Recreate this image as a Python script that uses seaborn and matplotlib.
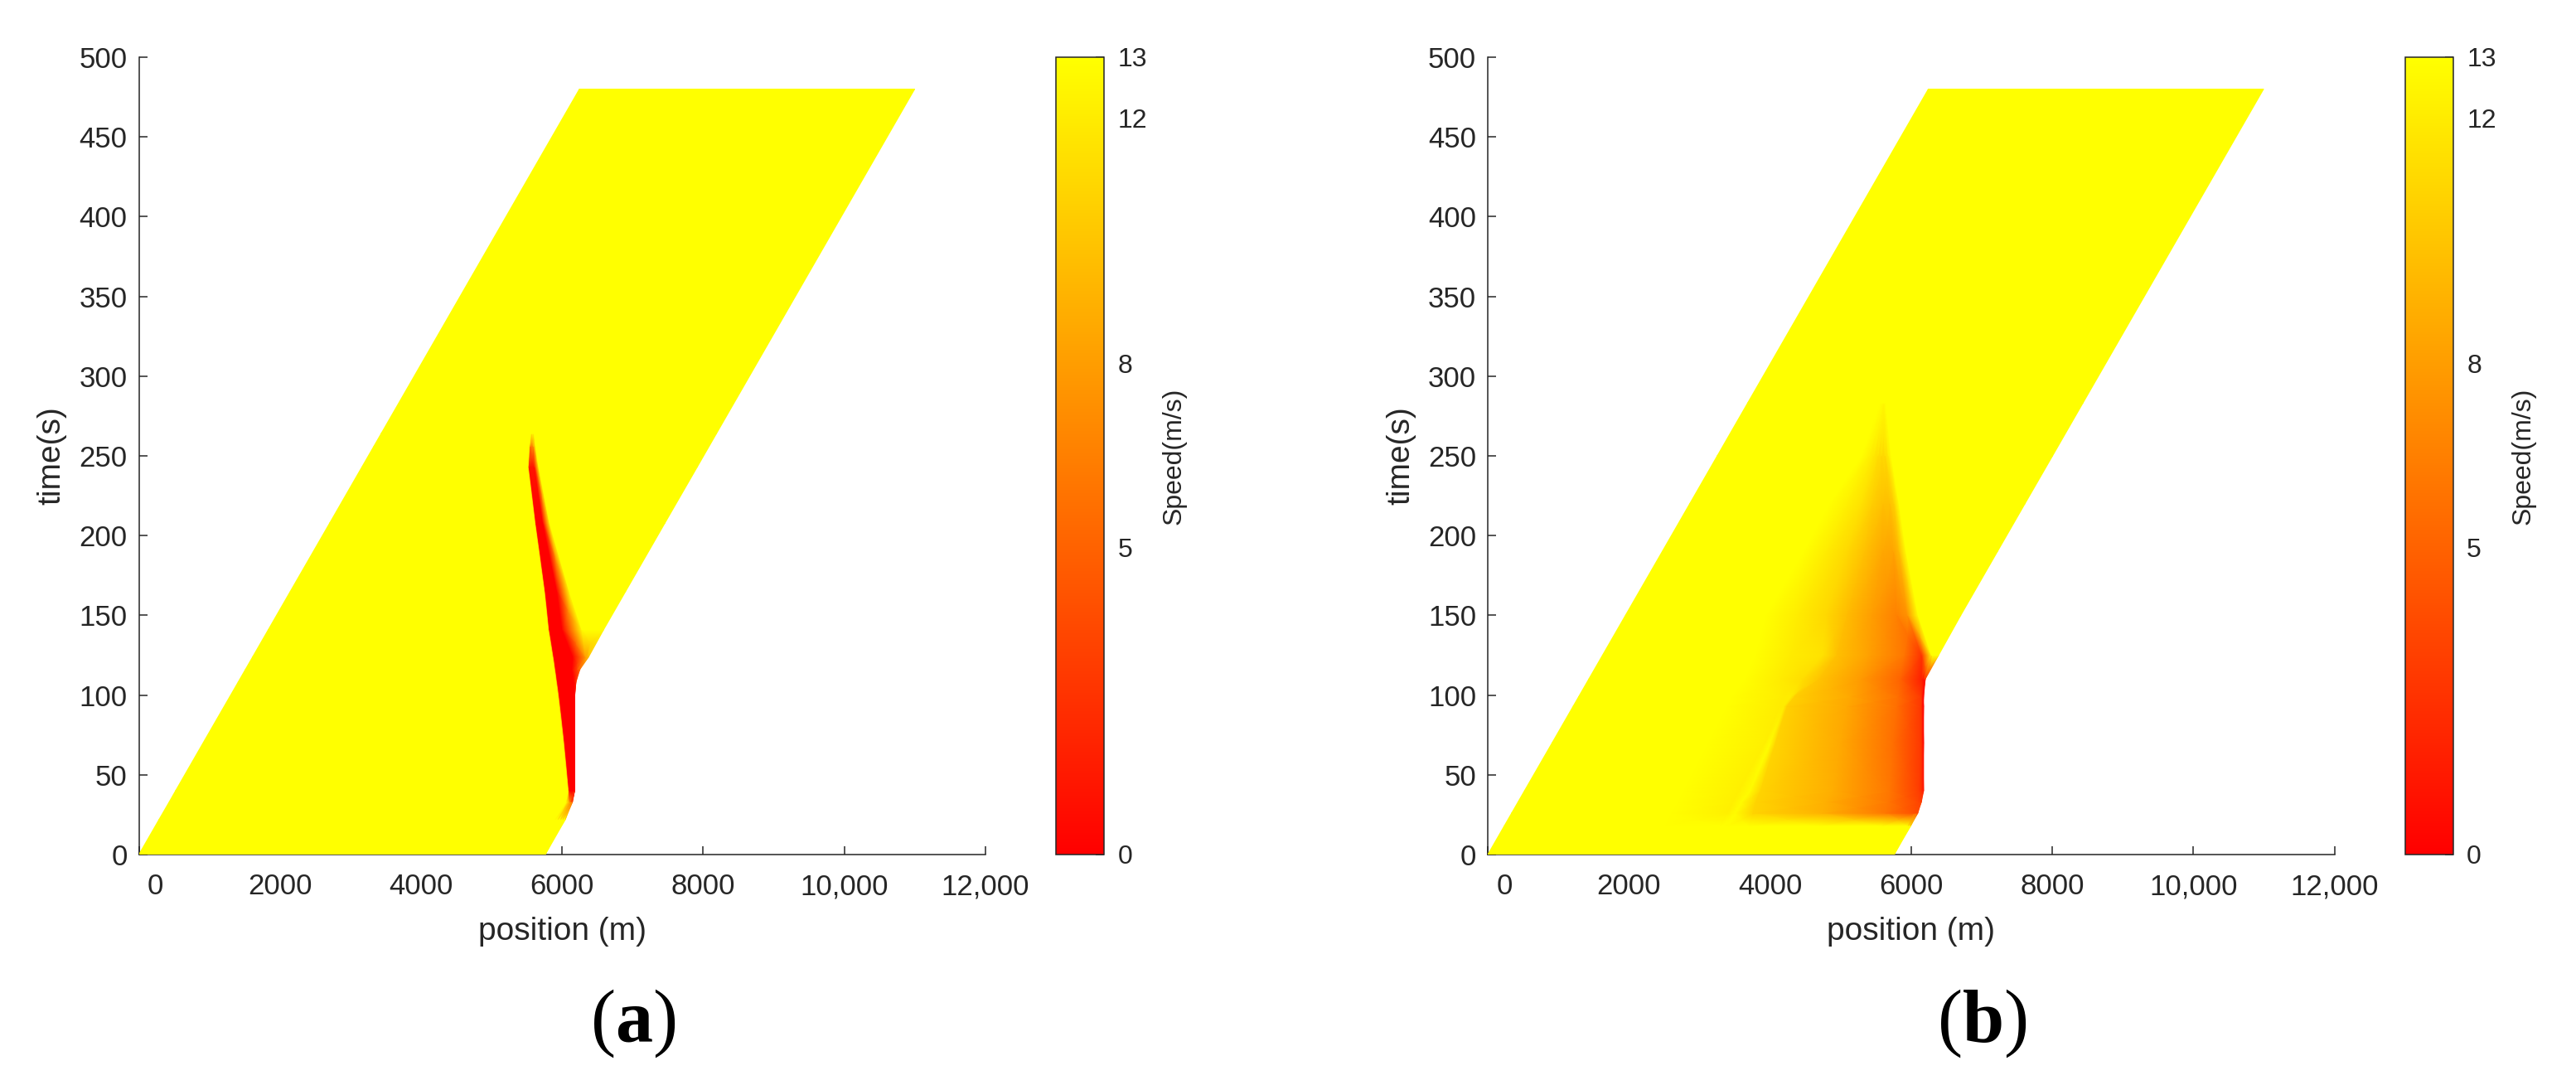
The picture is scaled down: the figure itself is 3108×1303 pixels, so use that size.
import numpy as np
import seaborn as sns
import matplotlib.pyplot as plt
from matplotlib.transforms import ScaledTranslation

# panel (a): time rows (s), node positions (m) and speeds (m/s) along each row
# nodes: left edge, band left (yellow), band left (red), band right, fade end, right edge
a_time = [0, 22, 33, 40, 72, 99, 108, 116, 124, 141, 165, 208, 243, 256, 264, 480]
a_pos = [
    [0, 5600, 5650, 5700, 5730, 5761],
    [286, 5900, 5940, 5980, 6010, 6045],
    [430, 6060, 6105, 6125, 6138, 6146],
    [520, 6085, 6100, 6170, 6174, 6177],
    [936, 6015, 6032, 6170, 6174, 6177],
    [1288, 5945, 5962, 6170, 6174, 6177],
    [1405, 5918, 5934, 6160, 6185, 6195],
    [1509, 5893, 5909, 6140, 6220, 6250],
    [1613, 5866, 5883, 6150, 6330, 6376],
    [1834, 5805, 5820, 6000, 6280, 6588],
    [2146, 5748, 5763, 5926, 6102, 6900],
    [2706, 5615, 5629, 5727, 5822, 7459],
    [3161, 5518, 5531, 5609, 5668, 7915],
    [3330, 5535, 5550, 5590, 5625, 8084],
    [3434, 5560, 5570, 5590, 5605, 8188],
    [6244, 8000, 8010, 8020, 8030, 10997],
]
a_speed = [
    [13, 13, 13, 13, 13, 13],
    [13, 13, 13, 13, 13, 13],
    [13, 13, 8, 6, 5, 5],
    [13, 13, 0, 0, 0, 0],
    [13, 13, 0, 0, 0, 0],
    [13, 13, 0, 0, 0, 0],
    [13, 13, 0, 0, 1, 2],
    [13, 13, 0, 0, 4, 5],
    [13, 13, 0, 0, 8, 10],
    [13, 13, 0, 0, 13, 13],
    [13, 13, 0, 0, 13, 13],
    [13, 13, 0, 0, 13, 13],
    [13, 13, 1, 1, 13, 13],
    [13, 13, 6, 7, 13, 13],
    [13, 13, 13, 13, 13, 13],
    [13, 13, 13, 13, 13, 13],
]

# panel (b): nodes: left edge, stripes start, stripes, wedge, main left, main mid,
# near bottleneck, slow edge, fade end, right edge
b_time = [0, 18, 26, 33, 40, 70, 93, 99, 110, 125, 150, 190, 220, 250, 283, 480]
b_pos = [
    [0, 2400, 3200, 3300, 3600, 4600, 5400, 5700, 5730, 5761],
    [234, 2515, 3300, 3400, 3710, 4700, 5600, 5960, 5985, 5995],
    [338, 2610, 3400, 3510, 3760, 4750, 5650, 6050, 6075, 6095],
    [429, 2700, 3480, 3600, 3800, 4800, 5680, 6110, 6135, 6146],
    [520, 2780, 3567, 3720, 3869, 4900, 5700, 6120, 6160, 6177],
    [911, 3128, 3928, 4005, 4081, 5000, 5750, 6140, 6165, 6177],
    [1210, 3400, 4150, 4200, 4243, 5100, 5800, 6140, 6165, 6177],
    [1288, 3470, 4200, 4300, 4350, 5150, 5820, 6145, 6168, 6177],
    [1431, 3650, 4150, 4450, 4700, 5300, 5850, 6150, 6185, 6201],
    [1626, 3800, 4300, 4750, 4950, 5400, 5900, 6150, 6290, 6390],
    [1951, 3950, 4400, 4800, 5100, 5450, 5800, 5950, 6100, 6705],
    [2472, 4480, 4800, 5100, 5350, 5600, 5750, 5830, 5930, 7225],
    [2862, 4850, 5100, 5300, 5450, 5600, 5700, 5760, 5830, 7615],
    [3252, 5300, 5400, 5470, 5530, 5580, 5630, 5680, 5720, 8006],
    [3681, 5560, 5580, 5595, 5605, 5613, 5620, 5630, 5640, 8435],
    [6244, 7500, 7600, 7700, 7800, 7900, 8000, 8100, 8200, 10997],
]
b_speed = [
    [13, 13, 13, 13, 13, 13, 13, 13, 13, 13],
    [13, 13, 13, 13, 13, 13, 13, 13, 13, 13],
    [13, 13, 12.2, 12.8, 10.8, 9, 6, 4, 4, 4],
    [13, 13, 12.2, 12.8, 10.8, 8.9, 6, 3.5, 3.5, 3.5],
    [13, 13, 12.2, 12.8, 10.8, 8.8, 6, 3, 2, 1.5],
    [13, 13, 12.2, 12.8, 10.8, 8.6, 5.6, 2.8, 1.5, 0.5],
    [13, 13, 12, 12, 10.6, 8.5, 5.6, 2.8, 1, 0.5],
    [13, 13, 12, 12, 10.6, 8.5, 5.6, 2.8, 1, 0.3],
    [13, 13, 12, 11.3, 10, 7.8, 5, 1.5, 1, 1.5],
    [13, 13, 12, 11.5, 9.8, 8.2, 6, 2.5, 13, 13],
    [13, 13, 12, 11, 9.5, 8, 6.5, 7.5, 13, 13],
    [13, 13, 12, 11, 9.8, 8.5, 8.3, 9.5, 13, 13],
    [13, 13, 12.2, 11.5, 10.5, 9.8, 9.8, 10.5, 13, 13],
    [13, 13, 12.3, 11.8, 11.3, 11, 11, 12, 13, 13],
    [13, 13, 13, 13, 13, 13, 13, 13, 13, 13],
    [13, 13, 13, 13, 13, 13, 13, 13, 13, 13],
]

x_ticks = [0, 2000, 4000, 6000, 8000, 10000, 12000]
x_tick_labels = ["0", "2000", "4000", "6000", "8000", "10,000", "12,000"]
y_ticks = [0, 50, 100, 150, 200, 250, 300, 350, 400, 450, 500]
cbar_ticks = [0, 5, 8, 12, 13]
panel_tags = ["a", "b"]

sns.set_style("white")
plt.rcParams["font.family"] = ["Liberation Sans", "DejaVu Sans"]
plt.rcParams["mathtext.fontset"] = "custom"
plt.rcParams["mathtext.rm"] = "Liberation Serif"
plt.rcParams["mathtext.bf"] = "Liberation Serif:bold"

speed_cmap = sns.blend_palette(["#ff0000", "#ffff00"], as_cmap=True)
norm = plt.Normalize(0, 13)
ink = "#262626"

W, H = 3108, 1303
fig = plt.figure(figsize=(W / 100, H / 100), dpi=100)

panels = [(a_time, a_pos, a_speed), (b_time, b_pos, b_speed)]
for i, (t_rows, x_rows, v_rows) in enumerate(panels):
    shift = 1627.5 * i
    ax = fig.add_axes([(167.5 + shift) / W, (H - 1031) / H, 1021.5 / W, 962 / H])
    cax = fig.add_axes([(1274 + shift) / W, (H - 1031) / H, 58 / W, 962 / H])

    xs = np.array(x_rows, dtype=float)
    vs = np.array(v_rows, dtype=float)
    ts = np.repeat(np.array(t_rows, dtype=float)[:, None], xs.shape[1], axis=1)
    mesh = ax.pcolormesh(xs, ts, vs, cmap=speed_cmap, norm=norm,
                         shading="gouraud", zorder=3)

    ax.set_xlim(0, 12000)
    ax.set_ylim(0, 500)
    ax.set_xticks(x_ticks)
    ax.set_xticklabels(x_tick_labels)
    ax.set_yticks(y_ticks)
    sns.despine(ax=ax)
    for side in ["left", "bottom"]:
        ax.spines[side].set_color(ink)
        ax.spines[side].set_linewidth(1.1)
    ax.tick_params(axis="both", direction="in", length=7, width=1.1,
                   colors=ink, labelsize=25, bottom=True, left=True)
    ax.tick_params(axis="x", pad=16)
    ax.tick_params(axis="y", pad=10)
    # the "0" on the position axis sits a little right of the corner
    lab0 = ax.get_xticklabels()[0]
    lab0.set_transform(lab0.get_transform() + ScaledTranslation(0.2, 0, fig.dpi_scale_trans))

    ax.set_xlabel("position (m)", fontsize=28, color=ink)
    ax.xaxis.set_label_coords(0.5, -0.078)
    ax.set_ylabel("time(s)", fontsize=28, color=ink)
    ax.yaxis.set_label_coords(-0.085, 0.5)

    cbar = fig.colorbar(mesh, cax=cax, ticks=cbar_ticks)
    cbar.outline.set_edgecolor(ink)
    cbar.outline.set_linewidth(1.1)
    cax.tick_params(direction="in", length=7, width=1.1, colors=ink,
                    labelsize=23, pad=12, right=True)
    cbar.set_label("Speed(m/s)", fontsize=23, color=ink)
    cax.yaxis.set_label_coords(2.2, 0.5)

    fig.text((764 + shift) / W, (H - 1257) / H, r"($\mathbf{" + panel_tags[i] + "}$)",
             fontsize=65, family="Liberation Serif", ha="center", va="baseline",
             color="black")

fig.savefig("out.png", dpi=100)
